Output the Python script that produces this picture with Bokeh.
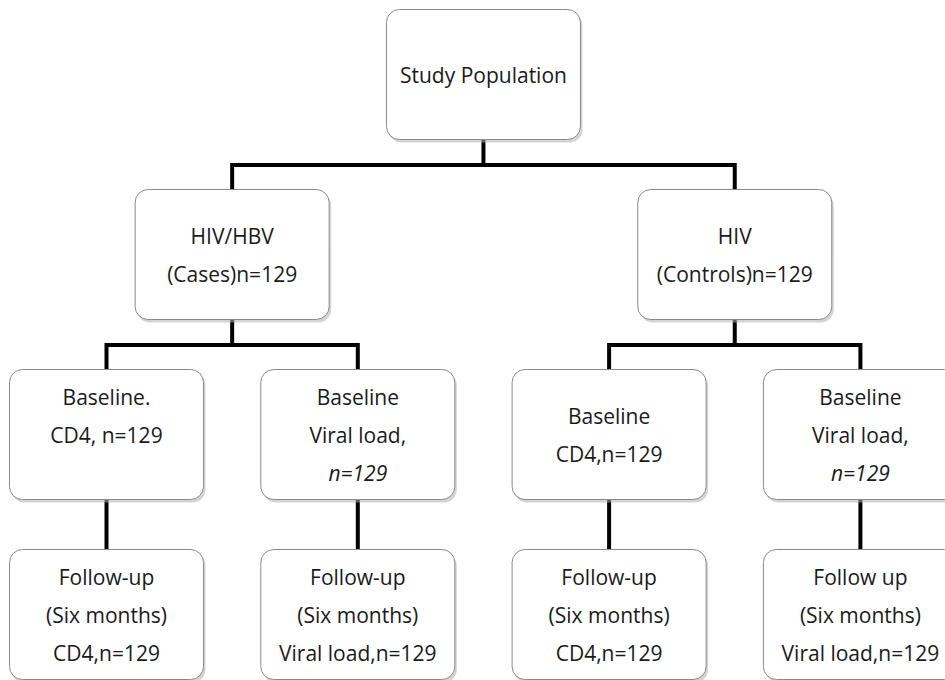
from bokeh.plotting import figure
from bokeh.models import Range1d
from bokeh.core.properties import value
from bokeh.embed import file_html
from bokeh.resources import INLINE

# ---- data: node texts per level ----
top_labels = [["Study Population"]]
group_labels = [["HIV/HBV", "(Cases)n=129"], ["HIV", "(Controls)n=129"]]
baseline_labels = [["Baseline.", "CD4, n=129", ""],
                   ["Baseline", "Viral load,", "n=129"],
                   ["Baseline", "CD4,n=129"],
                   ["Baseline", "Viral load,", "n=129"]]
baseline_italic = [[False, False, False],
                   [False, False, True],
                   [False, False],
                   [False, False, True]]
followup_labels = [["Follow-up", "(Six months)", "CD4,n=129"],
                   ["Follow-up", "(Six months)", "Viral load,n=129"],
                   ["Follow-up", "(Six months)", "CD4,n=129"],
                   ["Follow up", "(Six months)", "Viral load,n=129"]]

# ---- layout ----
LEAF_X0, LEAF_DX = 106.0, 251.3
BOX_W, BOX_H = 194.0, 130.0
LEVEL_TOP = [9.0, 189.0, 369.0, 549.0]
BAR_GAP = 24.5
LINE_DY = 38.0
FONT = "Open Sans"
FSIZE = "21px"

leaf_x = [LEAF_X0 + i * LEAF_DX for i in range(4)]
group_x = [(leaf_x[0] + leaf_x[1]) / 2, (leaf_x[2] + leaf_x[3]) / 2]
top_x = [(group_x[0] + group_x[1]) / 2]

W, H = 945, 680
p = figure(width=W, height=H, output_backend="svg", toolbar_location=None,
           x_range=Range1d(0, W), y_range=Range1d(H, 0),
           min_border=0)
p.axis.visible = False
p.grid.visible = False
p.outline_line_color = None
p.background_fill_color = "white"
p.border_fill_color = "white"

# connectors
def elbow(parent_x, parent_bottom, child_xs, child_top):
    bar_y = child_top - BAR_GAP
    p.line([parent_x, parent_x], [parent_bottom, bar_y], line_color="black", line_width=4)
    xs = [child_xs[0], child_xs[0], child_xs[-1], child_xs[-1]]
    ys = [child_top, bar_y, bar_y, child_top]
    p.line(xs, ys, line_color="black", line_width=4, line_join="miter")

elbow(top_x[0], LEVEL_TOP[0] + BOX_H, group_x, LEVEL_TOP[1])
elbow(group_x[0], LEVEL_TOP[1] + BOX_H, leaf_x[0:2], LEVEL_TOP[2])
elbow(group_x[1], LEVEL_TOP[1] + BOX_H, leaf_x[2:4], LEVEL_TOP[2])
for x in leaf_x:
    p.line([x, x], [LEVEL_TOP[2] + BOX_H, LEVEL_TOP[3]], line_color="black", line_width=4)

# boxes
def boxes(xs, top):
    left = [x - BOX_W / 2 for x in xs]
    right = [x + BOX_W / 2 for x in xs]
    p.quad(left=[l + 2 for l in left], right=[r + 2 for r in right],
           top=[top + 3] * len(xs), bottom=[top + BOX_H + 3] * len(xs),
           fill_color="#b0b0b0", fill_alpha=0.55, line_color=None, border_radius=13)
    p.quad(left=left, right=right, top=[top] * len(xs), bottom=[top + BOX_H] * len(xs),
           fill_color="white", line_color="#8a8a8a", line_width=1, border_radius=13)

def texts(xs, top, labels, italics=None):
    cy = top + BOX_H / 2
    for i, x in enumerate(xs):
        lines = labels[i]
        n = len(lines)
        for j, s in enumerate(lines):
            if not s:
                continue
            it = italics[i][j] if italics else False
            p.text(x=[x], y=[cy + (j - (n - 1) / 2) * LINE_DY], text=[s],
                   text_align="center", text_baseline="middle",
                   text_font=value(FONT), text_font_size=FSIZE,
                   text_font_style="italic" if it else "normal",
                   text_color="#1a1a1a")

boxes(top_x, LEVEL_TOP[0])
boxes(group_x, LEVEL_TOP[1])
boxes(leaf_x, LEVEL_TOP[2])
boxes(leaf_x, LEVEL_TOP[3])

texts(top_x, LEVEL_TOP[0], top_labels)
texts(group_x, LEVEL_TOP[1], group_labels)
texts(leaf_x, LEVEL_TOP[2], baseline_labels, baseline_italic)
texts(leaf_x, LEVEL_TOP[3], followup_labels)

open("out.html", "w").write(file_html(p, INLINE))
